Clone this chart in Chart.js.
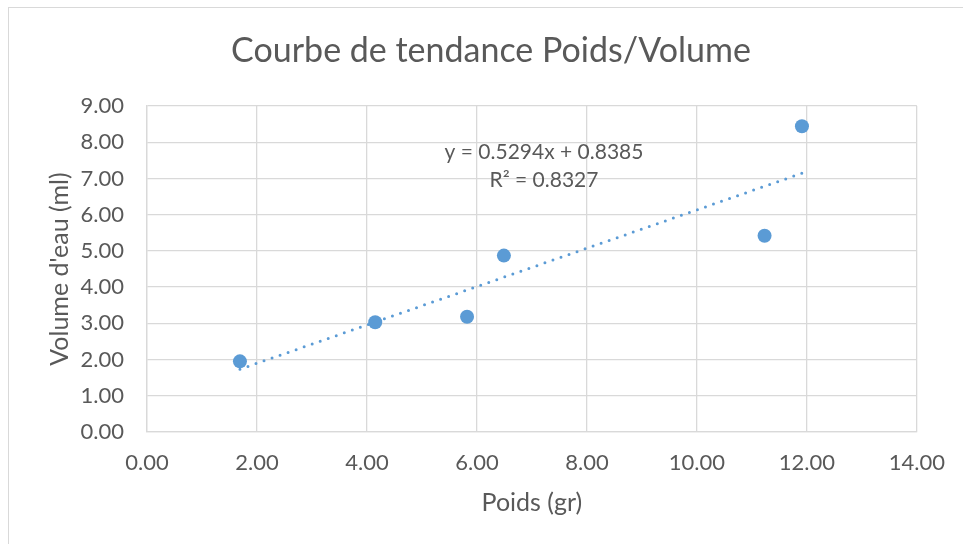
<!DOCTYPE html>
<html>
<head>
<meta charset="utf-8">
<script src="https://cdn.jsdelivr.net/npm/chart.js@4.4.1/dist/chart.umd.min.js"></script>
<style>
  html, body { margin: 0; padding: 0; background: #fff; overflow: hidden; }
  #wrap { position: relative; width: 963px; height: 544px; }
  #frame { position: absolute; left: 8px; top: 7px; width: 1000px; height: 600px; border: 1px solid #D9D9D9; box-sizing: border-box; pointer-events: none; }
  canvas { position: absolute; left: 0; top: 0; }
</style>
</head>
<body>
<div id="wrap">
  <div id="frame"></div>
  <canvas id="chart" width="963" height="544"></canvas>
</div>
<script>
// ---------------- Data ----------------
const poids = [1.69, 4.15, 5.82, 6.49, 11.23, 11.91];
const volume = [1.95, 3.03, 3.18, 4.87, 5.42, 8.44];
const pente = 0.5294;
const ordonnee = 0.8385;
const r2 = 0.8327;
const xTicks = [0, 2, 4, 6, 8, 10, 12, 14];
const yTicks = [0, 1, 2, 3, 4, 5, 6, 7, 8, 9];

const chartTitle = "Courbe de tendance Poids/Volume";
const xTitle = "Poids (gr)";
const yTitle = "Volume d'eau (ml)";

const blue = "#5B9BD5";
const textColor = "#595959";
const gridColor = "#D9D9D9";
const fontFamily = "Lato, 'Open Sans', sans-serif";

const points = poids.map((x, i) => ({ x, y: volume[i] }));
const xMin = Math.min(...poids), xMax = Math.max(...poids);
const trend = [
    { x: xMin, y: pente * xMin + ordonnee },
    { x: xMax, y: pente * xMax + ordonnee }
];

// ---------------- Title + equation ----------------
const textPlugin = {
    id: "texts",
    afterDraw(chart) {
        const ctx = chart.ctx;
        const area = chart.chartArea;
        ctx.save();
        ctx.fillStyle = textColor;
        ctx.textAlign = "center";
        ctx.textBaseline = "middle";
        ctx.font = "34px " + fontFamily;
        ctx.fillText(chartTitle, 491, 51);

        // equation label, placed relative to the plot area
        const cx = area.left + 397;
        ctx.font = "21px " + fontFamily;
        ctx.fillText("y = " + pente.toFixed(4) + "x + " + ordonnee.toFixed(4), cx, area.top + 46);
        ctx.fillText("R\u00B2 = " + r2.toFixed(4), cx, area.top + 74);
        ctx.restore();
    }
};

// ---------------- Chart ----------------
new Chart(document.getElementById("chart"), {
    type: "scatter",
    data: {
        datasets: [
            {
                label: "Volume",
                data: points,
                pointRadius: 7,
                pointHoverRadius: 7,
                pointBackgroundColor: blue,
                pointBorderColor: blue,
                pointBorderWidth: 0,
                showLine: false
            },
            {
                label: "Tendance",
                type: "line",
                data: trend,
                borderColor: blue,
                borderWidth: 3,
                borderDash: [0, 8.5],
                borderCapStyle: "round",
                pointRadius: 0,
                fill: false
            }
        ]
    },
    options: {
        responsive: false,
        animation: false,
        layout: { padding: { left: 0, top: 106, right: 45, bottom: 0 } },
        plugins: {
            legend: { display: false },
            tooltip: { enabled: false },
            title: { display: false }
        },
        scales: {
            x: {
                type: "linear",
                min: 0,
                max: 14,
                afterBuildTicks: s => { s.ticks = xTicks.map(v => ({ value: v })); },
                afterFit: s => { s.height = 112; },
                grid: { color: gridColor, lineWidth: 1.3, drawTicks: false },
                border: { color: gridColor, width: 1.3 },
                ticks: {
                    color: textColor,
                    padding: 18,
                    font: { family: fontFamily, size: 22 },
                    callback: v => Number(v).toFixed(2)
                },
                title: {
                    display: true,
                    text: xTitle,
                    color: textColor,
                    font: { family: fontFamily, size: 25 },
                    padding: { top: 0, bottom: 26 }
                }
            },
            y: {
                type: "linear",
                min: 0,
                max: 9,
                afterBuildTicks: s => { s.ticks = yTicks.map(v => ({ value: v })); },
                afterFit: s => { s.width = 147; },
                grid: { color: gridColor, lineWidth: 1.3, drawTicks: false },
                border: { color: gridColor, width: 1.3 },
                ticks: {
                    color: textColor,
                    padding: 23,
                    font: { family: fontFamily, size: 22 },
                    callback: v => Number(v).toFixed(2)
                },
                title: {
                    display: true,
                    text: yTitle,
                    color: textColor,
                    font: { family: fontFamily, size: 25 },
                    padding: { top: 45, bottom: 0 }
                }
            }
        }
    },
    plugins: [textPlugin]
});
</script>
</body>
</html>
